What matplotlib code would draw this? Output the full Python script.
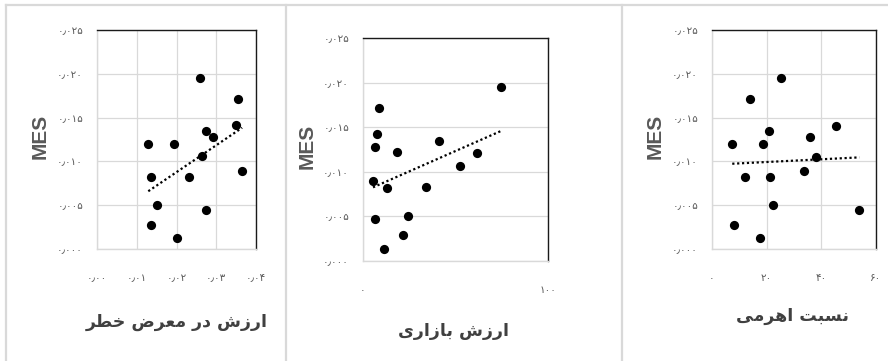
import numpy as np
import matplotlib
matplotlib.use("Agg")
import matplotlib.pyplot as plt
from matplotlib.ticker import FuncFormatter, MultipleLocator
from matplotlib.lines import Line2D

# ---------------- data ----------------
titles = ["ارزش در معرض خطر", "ارزش بازاری", "نسبت اهرمی"]
y_label = "MES"

var_x = [0.0129, 0.0135, 0.0150, 0.0136, 0.0193, 0.0201, 0.0231, 0.0259,
         0.0265, 0.0275, 0.0273, 0.0293, 0.0349, 0.0355, 0.0365]
var_y = [0.0120, 0.0082, 0.0050, 0.0027, 0.0120, 0.0012, 0.0082, 0.0195,
         0.0106, 0.0135, 0.0045, 0.0128, 0.0141, 0.0171, 0.0089]

mv_x = [5.4, 6.5, 7.4, 8.5, 6.7, 11.4, 13.0, 18.4,
        21.4, 24.1, 34.1, 40.9, 52.3, 61.4, 74.4]
mv_y = [0.0090, 0.0128, 0.0142, 0.0172, 0.0047, 0.0014, 0.0082, 0.0122,
        0.0029, 0.0051, 0.0083, 0.0135, 0.0106, 0.0121, 0.0195]

lev_x = [7.4, 8.2, 11.9, 13.9, 17.7, 18.6, 20.8, 21.1,
         22.2, 25.1, 33.5, 35.8, 38.1, 45.4, 53.9]
lev_y = [0.0120, 0.0027, 0.0082, 0.0171, 0.0012, 0.0120, 0.0135, 0.0082,
         0.0050, 0.0195, 0.0089, 0.0128, 0.0105, 0.0140, 0.0045]

x_limits = [(0.0, 0.04), (0.0, 100.0), (0.0, 60.0)]
x_steps = [0.01, 100.0, 20.0]
x_decimals = [2, 0, 0]
y_limits = (0.0, 0.025)
y_step = 0.005
y_decimals = 3

# ---------------- Persian text helpers ----------------
FORMS = {
    'ا': ('\uFE8D', '\uFE8E', None, None),
    'ب': ('\uFE8F', '\uFE90', '\uFE91', '\uFE92'),
    'ت': ('\uFE95', '\uFE96', '\uFE97', '\uFE98'),
    'خ': ('\uFEA5', '\uFEA6', '\uFEA7', '\uFEA8'),
    'د': ('\uFEA9', '\uFEAA', None, None),
    'ر': ('\uFEAD', '\uFEAE', None, None),
    'ز': ('\uFEAF', '\uFEB0', None, None),
    'س': ('\uFEB1', '\uFEB2', '\uFEB3', '\uFEB4'),
    'ش': ('\uFEB5', '\uFEB6', '\uFEB7', '\uFEB8'),
    'ض': ('\uFEBD', '\uFEBE', '\uFEBF', '\uFEC0'),
    'ط': ('\uFEC1', '\uFEC2', '\uFEC3', '\uFEC4'),
    'ع': ('\uFEC9', '\uFECA', '\uFECB', '\uFECC'),
    'م': ('\uFEE1', '\uFEE2', '\uFEE3', '\uFEE4'),
    'ن': ('\uFEE5', '\uFEE6', '\uFEE7', '\uFEE8'),
    'ه': ('\uFEE9', '\uFEEA', '\uFEEB', '\uFEEC'),
    'ی': ('\uFBFC', '\uFBFD', '\uFBFE', '\uFBFF'),
}


def dual(c):
    return c in FORMS and FORMS[c][2] is not None


def shape(text):
    out = []
    for i, c in enumerate(text):
        if c not in FORMS:
            out.append(c)
            continue
        prev = text[i - 1] if i > 0 else ''
        nxt = text[i + 1] if i + 1 < len(text) else ''
        pj = dual(prev)
        nj = dual(c) and nxt in FORMS
        iso, fin, ini, med = FORMS[c]
        if pj and nj:
            out.append(med)
        elif pj:
            out.append(fin)
        elif nj:
            out.append(ini)
        else:
            out.append(iso)
    return ''.join(out)[::-1]


PDIG = str.maketrans('0123456789.', '۰۱۲۳۴۵۶۷۸۹\u066B')


def fa_fmt(dec):
    return FuncFormatter(lambda v, p: f"{v:.{dec}f}".translate(PDIG))


# ---------------- figure ----------------
fig = plt.figure(figsize=(8.88, 3.61), dpi=100)
W, H = 888, 361

# panel frames
frame_c = '#d9d9d9'
for xx in [6, 286, 622]:
    fig.add_artist(Line2D([xx / W, xx / W], [0, 1 - 5 / H], color=frame_c, lw=1.6))
fig.add_artist(Line2D([6 / W, 1], [1 - 5 / H, 1 - 5 / H], color=frame_c, lw=1.6))

# axes boxes in pixels: left, right, top, bottom
boxes = [(97, 256, 30, 249), (363, 548, 38, 261), (712, 876, 30, 249)]
data = [(var_x, var_y), (mv_x, mv_y), (lev_x, lev_y)]
title_pos = [(177, 322), (453, 331), (792, 316)]
ylab_x = [40, 307, 655]

for k in range(3):
    l, r, t, b = boxes[k]
    ax = fig.add_axes([l / W, 1 - b / H, (r - l) / W, (b - t) / H])
    xs, ys = np.array(data[k][0]), np.array(data[k][1])
    ax.scatter(xs, ys, s=44, color='black', zorder=3, linewidths=0)
    c1, c0 = np.polyfit(xs, ys, 1)
    xl = np.array([xs.min(), xs.max()])
    ax.plot(xl, c0 + c1 * xl, color='black', lw=1.6, ls=(0, (1, 1.2)), zorder=2)

    ax.set_xlim(*x_limits[k])
    ax.set_ylim(*y_limits)
    ax.xaxis.set_major_locator(MultipleLocator(x_steps[k]))
    ax.yaxis.set_major_locator(MultipleLocator(y_step))
    ax.xaxis.set_major_formatter(fa_fmt(x_decimals[k]))
    ax.yaxis.set_major_formatter(fa_fmt(y_decimals))
    ax.grid(True, color='#d9d9d9', lw=0.9)
    ax.set_axisbelow(True)
    ax.tick_params(length=0, labelsize=7.5, labelcolor='#595959')
    ax.tick_params(axis='y', pad=10)
    ax.tick_params(axis='x', pad=17)
    for lab in ax.get_xticklabels() + ax.get_yticklabels():
        lab.set_family('DejaVu Sans')
    for s in ['left', 'bottom']:
        ax.spines[s].set_color('#d9d9d9')
        ax.spines[s].set_linewidth(1.0)
    for s in ['top', 'right']:
        ax.spines[s].set_color('#1a1a1a')
        ax.spines[s].set_linewidth(1.0)

    fig.text(ylab_x[k] / W, 1 - ((t + b) / 2 - 3) / H, y_label, rotation=90,
             ha='center', va='center', fontsize=15, fontweight='bold',
             color='#595959', family='Liberation Sans')
    tx, ty = title_pos[k]
    fig.text(tx / W, 1 - ty / H, shape(titles[k]), ha='center', va='center',
             fontsize=12.5, fontweight='bold', color='#404040', family='DejaVu Sans')

fig.savefig('out.png', dpi=100)
